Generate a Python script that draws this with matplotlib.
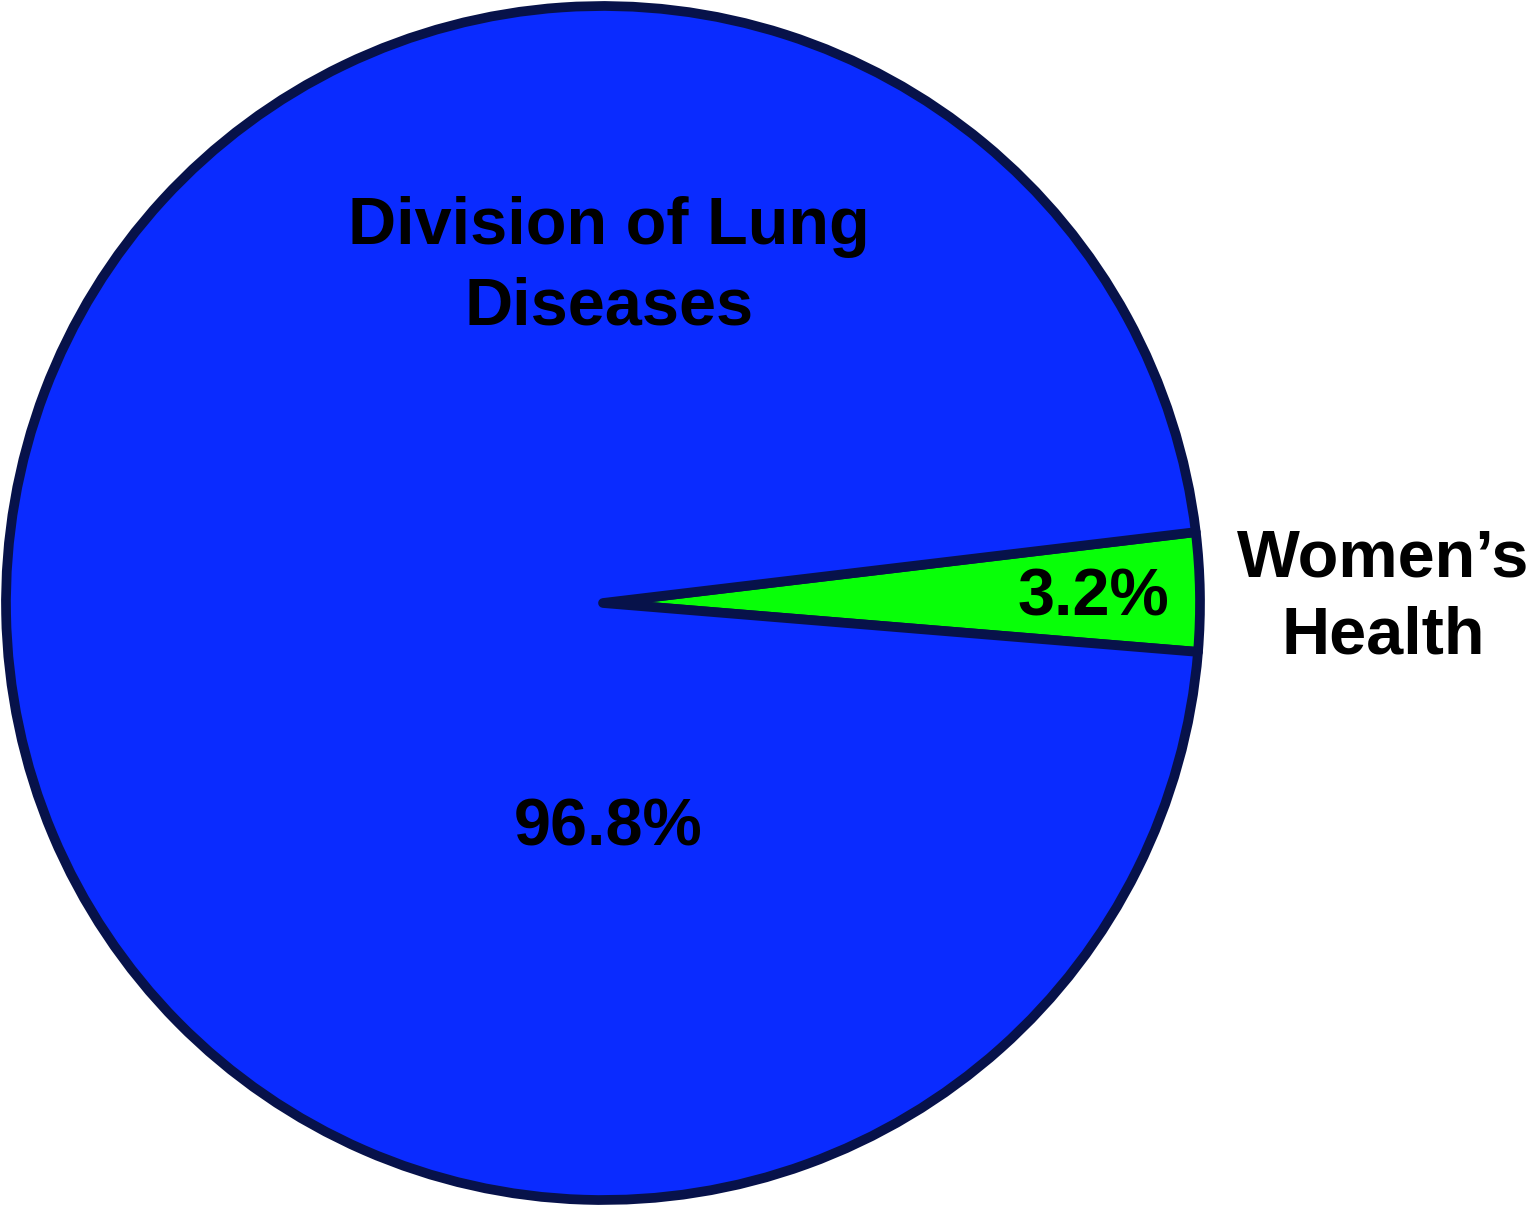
import matplotlib.pyplot as plt

labels = ["Women\u2019s\nHealth", "Division of Lung\nDiseases"]
shares = [3.2, 96.8]
pct_text = ["3.2%", "96.8%"]
colors = ["#08FF08", "#0A2BFF"]

plt.rcParams['font.family'] = ['Liberation Sans', 'DejaVu Sans']

W, H = 1532, 1209
fig = plt.figure(figsize=(W / 100, H / 100), dpi=100)
ax = fig.add_axes([0, 0, 1, 1])

cx, cy, r = 603, H - 603, 597
ax.pie(shares, colors=colors, startangle=-4.7, counterclock=True,
       center=(cx, cy), radius=r,
       wedgeprops=dict(edgecolor="#07124A", linewidth=7, joinstyle="round"))
ax.set_xlim(0, W)
ax.set_ylim(0, H)
ax.set_aspect('equal')
ax.axis('off')

# labels, placed where the original puts them
txt = dict(fontsize=48, fontweight='bold', ha='center', va='center', color='black')
ax.text(cx + 490, cy + 5, pct_text[0], **txt)
ax.text(cx + 780, cy + 5, labels[0], linespacing=1.32, **txt)
ax.text(cx + 6, cy + 336, labels[1], linespacing=1.38, **txt)
ax.text(cx + 5, cy - 225, pct_text[1], **txt)

fig.savefig("out.png", dpi=100, facecolor="white")
